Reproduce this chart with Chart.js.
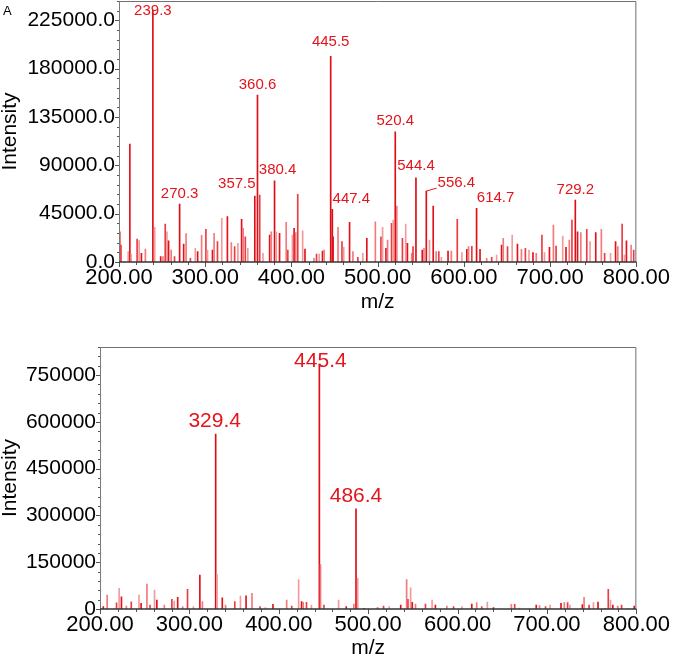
<!DOCTYPE html>
<html>
<head>
<meta charset="utf-8">
<title>Mass spectra</title>
<script src="https://cdn.jsdelivr.net/npm/chart.js@4.4.0/dist/chart.umd.min.js"></script>
<style>
    html, body { margin: 0; padding: 0; background: #fff; overflow: hidden; }
    #wrap { position: relative; width: 675px; height: 659px; }
    .panel { position: absolute; left: 0; width: 675px; }
    #panel-a { top: 0; height: 315px; }
    #panel-b { top: 315px; height: 344px; }
    #tag-a { position: absolute; left: 3px; top: 3px; font: 13px "Liberation Sans", Arial, sans-serif; color: #000; }
</style>
</head>
<body>
<div id="wrap">
    <div class="panel" id="panel-a"><canvas id="chart-a"></canvas></div>
    <div class="panel" id="panel-b"><canvas id="chart-b"></canvas></div>
    <div id="tag-a">A</div>
</div>
<script>
// Panel A spectrum (m/z, intensity)
const topMz = [
    200.6, 201.4, 202.3, 210.7, 212.6, 213.8, 221.0, 223.4, 226.0, 230.6,
    239.3, 241.4, 248.3, 251.0, 253.6, 255.6, 257.5, 260.5, 264.4, 270.3,
    275.0, 277.8, 282.8, 288.5, 291.2, 295.8, 300.8, 302.7, 308.4, 310.3,
    314.2, 319.2, 325.7, 330.3, 334.1, 337.9, 342.2, 344.0, 346.5, 349.4,
    357.5, 360.6, 363.2, 367.0, 374.7, 376.6, 380.4, 382.4, 386.2, 393.9,
    395.8, 401.1, 403.1, 404.9, 407.3, 413.0, 415.7, 426.1, 429.1, 432.2,
    436.0, 437.9, 445.5, 447.4, 448.3, 454.0, 458.6, 460.6, 467.4, 471.3,
    477.0, 482.8, 487.4, 497.3, 503.8, 505.7, 509.6, 511.5, 516.1, 518.0,
    520.4, 522.2, 528.7, 532.5, 534.5, 539.4, 541.0, 544.4, 551.7, 553.7,
    556.4, 560.1, 564.4, 567.8, 570.9, 573.9, 581.6, 585.4, 592.3, 597.7,
    603.4, 605.4, 609.2, 614.7, 618.7, 626.4, 632.2, 637.9, 643.7, 645.6,
    650.6, 656.0, 662.1, 666.7, 671.3, 675.5, 680.1, 683.9, 690.5, 693.5,
    699.2, 703.8, 706.9, 714.6, 718.4, 722.2, 725.3, 729.2, 731.8, 735.6,
    742.5, 746.3, 752.9, 759.4, 763.2, 770.1, 775.9, 778.5, 783.5, 786.2,
    788.5, 793.9, 796.9
];
const topIntensity = [
    20500, 28000, 15800, 9600, 109700, 7400, 21400, 20000, 8000, 12000,
    234300, 32200, 5000, 5000, 35300, 28200, 19800, 11200, 5000, 54000,
    16700, 26500, 3400, 12700, 9600, 24900, 30400, 11200, 11200, 26600,
    18900, 40600, 42200, 18000, 14300, 17400, 39800, 31300, 23500, 12700,
    61400, 155300, 62300, 8000, 25000, 28200, 75600, 28200, 26600, 37000,
    11200, 25100, 31300, 27300, 63000, 29000, 12000, 3400, 7400, 7400,
    10200, 11200, 191500, 49000, 23500, 32200, 18900, 13600, 36900, 9600,
    4300, 8000, 22000, 37500, 23500, 32200, 12700, 20500, 36000, 39000,
    121200, 52000, 22000, 35300, 17400, 8000, 14300, 78400, 11200, 12700,
    66000, 20500, 52000, 9600, 9600, 4300, 10200, 10200, 39700, 8700,
    11800, 14300, 14600, 49900, 11800, 3400, 4300, 6500, 15800, 22000,
    14300, 25100, 16700, 11800, 12700, 11200, 8700, 8000, 25100, 8700,
    13600, 34400, 14900, 24200, 13600, 20500, 39000, 57600, 28200, 27300,
    30400, 18900, 27300, 30400, 8000, 8000, 18900, 14300, 35300, 6500,
    19800, 15800, 11200
];
const topLabelMz = [239.3, 270.3, 357.5, 360.6, 380.4, 445.5, 447.4, 520.4, 544.4, 556.4, 614.7, 729.2];
const topYTicks = [0, 45000, 90000, 135000, 180000, 225000];

// Panel B spectrum (m/z, intensity)
const bottomMz = [
    203.7, 208.0, 218.5, 221.4, 224.0, 229.5, 235.0, 243.6, 246.0, 252.5,
    256.0, 261.0, 263.6, 272.0, 280.4, 283.0, 286.9, 292.5, 297.9, 304.5,
    311.7, 314.6, 329.4, 331.0, 336.8, 340.5, 350.8, 357.1, 363.4, 370.0,
    379.0, 385.0, 393.5, 408.8, 414.5, 422.2, 425.5, 427.3, 431.0, 436.5,
    445.4, 446.7, 450.5, 466.9, 475.5, 484.0, 486.4, 488.3, 495.5, 510.5,
    517.2, 523.4, 536.4, 543.0, 544.5, 547.5, 549.3, 553.0, 564.1, 571.5,
    575.2, 588.0, 595.5, 604.8, 615.9, 621.4, 627.0, 633.3, 640.2, 660.2,
    663.9, 669.4, 688.0, 691.7, 698.4, 703.5, 715.7, 719.4, 723.1, 725.7,
    739.6, 741.5, 747.1, 752.0, 757.1, 764.9, 768.6, 771.1, 773.7, 779.2,
    783.5, 790.9, 797.6
];
const bottomIntensity = [
    7500, 44700, 20000, 66000, 39000, 9000, 23000, 44700, 18000, 80000,
    12800, 60600, 28700, 12800, 31000, 25500, 37200, 8000, 62800, 7500,
    108500, 23400, 560700, 110600, 36200, 12800, 23400, 41500, 42500, 50000,
    7500, 4300, 14900, 28700, 9600, 94700, 23400, 21300, 21300, 12800,
    784000, 142600, 12800, 28700, 7500, 16000, 321300, 98000, 2000, 5300,
    9600, 7500, 12800, 94700, 30800, 68000, 21300, 16000, 16000, 28700,
    12800, 9600, 7500, 7500, 16000, 20200, 7500, 22300, 4300, 14900,
    14900, 3200, 12800, 10600, 7500, 12800, 18100, 20200, 20200, 12800,
    13800, 37200, 12800, 20200, 22300, 2100, 62800, 28700, 12800, 9600,
    12800, 2100, 9600
];
const bottomLabelMz = [329.4, 445.4, 486.4];
const bottomYTicks = [0, 150000, 300000, 450000, 600000, 750000];

const xTicks = [200, 300, 400, 500, 600, 700, 800];

const FONT = '"Liberation Sans", Arial, sans-serif';
const RED = '#e3141b';
const PEAK_COLORS = ['#e2121a', '#f07a7e', '#e83d42', '#f39a9c'];

/**
 * Frame, minor ticks and peak labels
 */
const spectrumDecor = {
    id: 'spectrumDecor',
    afterDatasetsDraw(chart, args, opts) {
        const { ctx, chartArea: a } = chart;
        const x = chart.scales.x;
        const y = chart.scales.y;
        ctx.save();

        // top / right border
        ctx.strokeStyle = '#707070';
        ctx.lineWidth = 1;
        ctx.beginPath();
        ctx.moveTo(a.left, a.top + 0.5);
        ctx.lineTo(a.right - 0.5, a.top + 0.5);
        ctx.lineTo(a.right - 0.5, a.bottom);
        ctx.stroke();

        // left axis
        ctx.strokeStyle = '#7a7a7a';
        ctx.beginPath();
        ctx.moveTo(a.left + 0.5, a.top);
        ctx.lineTo(a.left + 0.5, a.bottom);
        ctx.stroke();

        // y ticks
        ctx.strokeStyle = '#555';
        for (let v = 0; v <= y.max; v += opts.yMinor) {
            const py = Math.round(y.getPixelForValue(v)) + 0.5;
            const len = v % opts.yMajor === 0 ? 4 : 2;
            ctx.beginPath();
            ctx.moveTo(a.left - len, py);
            ctx.lineTo(a.left, py);
            ctx.stroke();
        }

        // x ticks
        for (let v = 200; v <= 800; v += 20) {
            const px = Math.round(x.getPixelForValue(v)) + 0.5;
            const len = v % 100 === 0 ? 5 : 3;
            ctx.beginPath();
            ctx.moveTo(px, a.bottom);
            ctx.lineTo(px, a.bottom + len);
            ctx.stroke();
        }

        // bottom axis
        ctx.strokeStyle = '#333';
        ctx.lineWidth = 1.5;
        ctx.beginPath();
        ctx.moveTo(a.left, a.bottom);
        ctx.lineTo(a.right, a.bottom);
        ctx.stroke();

        // peak labels
        ctx.fillStyle = RED;
        ctx.strokeStyle = RED;
        ctx.lineWidth = 1;
        ctx.font = opts.labelSize + 'px ' + FONT;
        ctx.textAlign = 'center';
        ctx.textBaseline = 'middle';
        opts.labels.forEach((mz, i) => {
            const k = opts.mz.indexOf(mz);
            const bx = x.getPixelForValue(mz);
            const by = y.getPixelForValue(opts.intensity[k]);
            const dx = opts.dx[i] || 0;
            const dy = opts.dy[i] !== undefined && opts.dy[i] !== null ? opts.dy[i] : opts.defaultDy;
            const cx = bx + dx;
            const cy = Math.max(by + dy, a.top + opts.minTop);
            ctx.fillText(mz.toFixed(1), cx, cy);
            if (opts.leader[i]) {
                const tw = ctx.measureText(mz.toFixed(1)).width;
                ctx.beginPath();
                ctx.moveTo(bx, by);
                ctx.lineTo(cx - tw / 2 - 1, cy + 5);
                ctx.stroke();
            }
        });
        ctx.restore();
    }
};

/**
 * Build one spectrum panel
 */
function makePanel(canvasId, cfg) {
    const points = cfg.mz.map((m, i) => ({ x: m, y: cfg.intensity[i] }));
    return new Chart(document.getElementById(canvasId), {
        type: 'bar',
        data: {
            datasets: [{
                data: points,
                backgroundColor: function(c) {
                    const raw = c.raw || {};
                    if (cfg.labels.indexOf(raw.x) !== -1) return '#dc0e16';
                    return PEAK_COLORS[c.dataIndex % PEAK_COLORS.length];
                },
                borderWidth: 0,
                barThickness: 1
            }]
        },
        options: {
            responsive: true,
            maintainAspectRatio: false,
            animation: false,
            devicePixelRatio: 1,
            layout: { padding: cfg.padding },
            plugins: {
                legend: { display: false },
                tooltip: { enabled: false },
                spectrumDecor: {
                    mz: cfg.mz,
                    intensity: cfg.intensity,
                    labels: cfg.labels,
                    dx: cfg.dx,
                    dy: cfg.dy,
                    leader: cfg.leader,
                    defaultDy: cfg.defaultDy,
                    minTop: cfg.minTop,
                    labelSize: cfg.labelSize,
                    yMinor: cfg.yMinor,
                    yMajor: cfg.yMajor
                }
            },
            scales: {
                x: {
                    type: 'linear',
                    min: 200,
                    max: 800,
                    offset: false,
                    grid: { display: false, drawTicks: false, offset: false },
                    border: { display: false },
                    afterBuildTicks: s => { s.ticks = xTicks.map(v => ({ value: v })); },
                    afterFit: s => { s.height = cfg.xHeight; },
                    ticks: {
                        autoSkip: false,
                        maxRotation: 0,
                        padding: cfg.xPad,
                        color: '#000',
                        font: { family: FONT, size: 22, lineHeight: 1 },
                        callback: v => Number(v).toFixed(2)
                    },
                    title: {
                        display: true,
                        text: 'm/z',
                        color: '#000',
                        font: { family: FONT, size: 21, lineHeight: 1 },
                        padding: { top: 0, bottom: cfg.titlePad }
                    }
                },
                y: {
                    min: 0,
                    max: cfg.yMax,
                    grid: { display: false, drawTicks: false },
                    border: { display: false },
                    afterBuildTicks: s => { s.ticks = cfg.yTicks.map(v => ({ value: v })); },
                    afterFit: s => {
                        s.width = cfg.yWidth;
                        s.paddingTop = 0;
                        s.paddingBottom = 0;
                    },
                    ticks: {
                        padding: 4,
                        color: '#000',
                        font: { family: FONT, size: 21, lineHeight: 1 },
                        callback: cfg.yFormat
                    },
                    title: {
                        display: true,
                        text: 'Intensity',
                        color: '#000',
                        font: { family: FONT, size: 21, lineHeight: 1 },
                        padding: { top: 0, bottom: 0 }
                    }
                }
            }
        },
        plugins: [spectrumDecor]
    });
}

makePanel('chart-a', {
    mz: topMz,
    intensity: topIntensity,
    labels: topLabelMz,
    dx: [0, 0, -18, 0, 3, 0, 19, 0, 0, 30, 19, 0],
    dy: [null, null, -12, null, null, -14, null, null, -12, -8, null, null],
    leader: [false, false, false, false, false, false, false, false, false, true, false, false],
    defaultDy: -10.5,
    minTop: 10,
    labelSize: 15,
    yMax: 243000,
    yTicks: topYTicks,
    yMinor: 9000,
    yMajor: 45000,
    yWidth: 119,
    yFormat: v => Number(v).toFixed(1),
    xHeight: 53,
    xPad: 5,
    titlePad: 2,
    padding: { top: 1, right: 34, left: 0, bottom: 0 }
});

makePanel('chart-b', {
    mz: bottomMz,
    intensity: bottomIntensity,
    labels: bottomLabelMz,
    dx: [-1, 1, 0],
    dy: [null, null, null],
    leader: [false, false, false],
    defaultDy: -13,
    minTop: 14.5,
    labelSize: 21,
    yMax: 840000,
    yTicks: bottomYTicks,
    yMinor: 30000,
    yMajor: 150000,
    yWidth: 100,
    yFormat: v => String(v),
    xHeight: 50,
    xPad: 5,
    titlePad: 0,
    padding: { top: 32, right: 34, left: 0, bottom: 0 }
});
</script>
</body>
</html>
